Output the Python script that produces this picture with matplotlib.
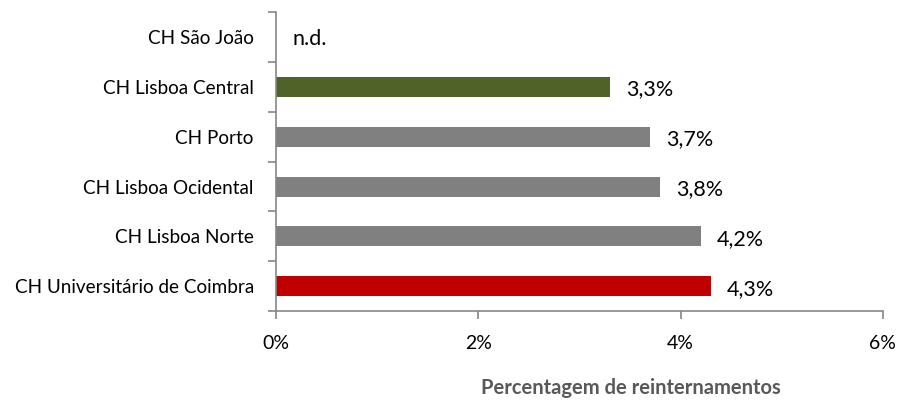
import numpy as np
import matplotlib.pyplot as plt

plt.rcParams['font.family'] = ['Lato', 'DejaVu Sans']

# data (bottom to top)
categories = ['CH Universitário de Coimbra', 'CH Lisboa Norte', 'CH Lisboa Ocidental',
              'CH Porto', 'CH Lisboa Central', 'CH São João']
values = [4.3, 4.2, 3.8, 3.7, 3.3, np.nan]
value_labels = ['4,3%', '4,2%', '3,8%', '3,7%', '3,3%', 'n.d.']
colors = ['#C00000', '#808080', '#808080', '#808080', '#4F6228', '#808080']
xticks = [0, 2, 4, 6]
xtick_labels = ['0%', '2%', '4%', '6%']

fig = plt.figure(figsize=(8.99, 4.01), dpi=100)
ax = fig.add_axes([0.307, 0.224, 0.675, 0.746])

y = np.arange(len(categories))
vals = np.nan_to_num(values)
ax.barh(y, vals, height=0.4, color=colors)

for yi, v, lab in zip(y, vals, value_labels):
    ax.text(v + 0.16, yi - 0.05, lab, va='center', ha='left', fontsize=15.5, color='black')

ax.set_xlim(0, 6)
ax.set_ylim(-0.5, len(categories) - 0.5)
ax.set_xticks(xticks)
ax.set_xticklabels(xtick_labels, fontsize=14)
ax.set_yticks(y)
ax.set_yticklabels(categories, fontsize=13.6)
ax.set_yticks(np.arange(-0.5, len(categories)), minor=True)
ax.tick_params(axis='y', which='major', length=0, pad=16)
ax.tick_params(axis='y', which='minor', length=6, color='#868686', width=1.2)
ax.tick_params(axis='x', length=6, color='#868686', width=1.2, pad=11)

for s in ['top', 'right']:
    ax.spines[s].set_visible(False)
for s in ['left', 'bottom']:
    ax.spines[s].set_color('#868686')
    ax.spines[s].set_linewidth(1.2)

fig.text(631 / 899, 1 - 388 / 401, 'Percentagem de reinternamentos', ha='center', va='center',
         fontsize=14.5, fontweight='bold', color='#595959')

plt.savefig('out.png', dpi=100)
